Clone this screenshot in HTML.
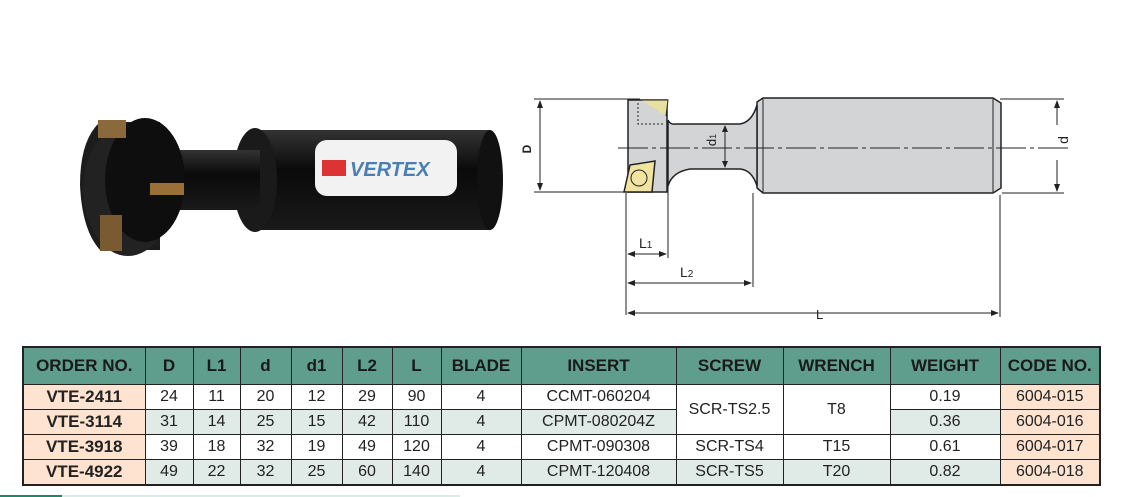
<!DOCTYPE html>
<html><head><meta charset="utf-8"><style>
body{margin:0;width:1124px;height:497px;background:#fff;position:relative;overflow:hidden;font-family:"Liberation Sans",sans-serif}
svg{position:absolute;left:0;top:0}
table{position:absolute;left:22px;top:346px;border-collapse:collapse;border:2px solid #222}
td{border:1px solid #222;text-align:center;font-size:16px;color:#222;padding:0;height:24px}
tr.h td{background:#5f9d8d;font-weight:bold;font-size:17px;height:36px;color:#1a1a1a}
td.o{background:#fde3d0;font-weight:bold;font-size:17px}
td.c{background:#fde3d0}
tr.g td{background:#e0ebe7}
tr.g td.o,tr.g td.c{background:#fde3d0}
td.w{background:#fff!important}
</style></head><body>
<svg width="1124" height="497">
<defs><linearGradient id="bk" x1="0" y1="0" x2="0" y2="1"><stop offset="0" stop-color="#333"/><stop offset="0.4" stop-color="#0a0a0a"/><stop offset="1" stop-color="#1a1a1a"/></linearGradient></defs>
<rect x="250" y="130" width="240" height="100" fill="url(#bk)"/>
<ellipse cx="490" cy="180" rx="13" ry="50" fill="#111"/>
<ellipse cx="255" cy="180" rx="22" ry="52" fill="#1a1a1a"/>
<rect x="160" y="150" width="100" height="60" fill="url(#bk)"/>
<path d="M100 122 L160 122 L160 250 L100 250 Q82 230 80 185 Q80 140 100 122Z" fill="#1c1c1c"/>
<ellipse cx="128" cy="190" rx="45" ry="66" fill="#222"/>
<ellipse cx="145" cy="180" rx="40" ry="62" fill="#0e0e0e"/>
<rect x="98" y="120" width="28" height="18" fill="#8a6a3a"/>
<rect x="150" y="183" width="34" height="12" fill="#9a7038"/>
<rect x="100" y="215" width="22" height="36" fill="#7a5a30"/>
<rect x="315" y="140" width="142" height="56" rx="12" fill="#f2f2f2"/>
<rect x="322" y="160" width="24" height="16" fill="#d33"/>
<text x="350" y="176" font-size="20" font-weight="bold" fill="#4a7fb5" font-style="italic" font-family="Liberation Sans">VERTEX</text>
<g stroke="#222" fill="none" stroke-width="1">
<line x1="534" y1="99" x2="640" y2="99"/><line x1="534" y1="192" x2="628" y2="192"/>
<line x1="540" y1="101" x2="540" y2="190"/>
<line x1="1000" y1="99" x2="1064" y2="99"/><line x1="1002" y1="193" x2="1064" y2="193"/>
<line x1="1057" y1="101" x2="1057" y2="125"/><line x1="1057" y1="160" x2="1057" y2="191"/>
<line x1="626" y1="193" x2="626" y2="315"/>
<line x1="668" y1="178" x2="668" y2="258"/>
<line x1="753" y1="193" x2="753" y2="287"/>
<line x1="1000" y1="195" x2="1000" y2="317"/>
<line x1="628" y1="254" x2="666" y2="254"/>
<line x1="628" y1="283" x2="751" y2="283"/>
<line x1="628" y1="313" x2="998" y2="313"/>
</g>
<g fill="#222">
<path d="M540 100 l-3 8 h6z M540 191 l-3 -8 h6z M1057 100 l-3 8 h6z M1057 192 l-3 -8 h6z"/>
<path d="M627 254 l8 -3 v6z M667 254 l-8 -3 v6z M627 283 l8 -3 v6z M752 283 l-8 -3 v6z M627 313 l8 -3 v6z M999 313 l-8 -3 v6z"/>
</g>
<path d="M757 102 L763 98 H993 L1001 103 V188 L993 193 H763 L757 188Z" fill="#d3d4d6" stroke="#222" stroke-width="1.5"/>
<line x1="763" y1="99" x2="763" y2="192" stroke="#222"/>
<line x1="993" y1="99" x2="993" y2="192" stroke="#222"/>
<path d="M668 120 Q670 125 676 124 H740 Q752 122 757 105 V186 Q752 170 740 169 H690 Q672 172 668 186Z" fill="#d3d4d6" stroke="#222" stroke-width="1.5"/>
<path d="M628 100 H667 V192 H628Z" fill="#d3d4d6" stroke="#222" stroke-width="1.5"/>
<path d="M641 100 H668 L666 116" fill="#e8e0a0" stroke="#222"/>
<path d="M638 103 V124 H664" fill="none" stroke="#222" stroke-dasharray="2,2"/>
<path d="M630 165 L655 161 L652 192 L624 192Z" fill="#f0e4a0" stroke="#222" stroke-width="1.5"/>
<circle cx="639" cy="178" r="8" fill="none" stroke="#222"/>
<line x1="618" y1="148" x2="1068" y2="148" stroke="#222" stroke-dasharray="30,4,4,4"/>
<line x1="725" y1="126" x2="725" y2="167" stroke="#222"/>
<path d="M725 125 l-3 7 h6z M725 168 l-3 -7 h6z" fill="#222"/>
<g font-family="Liberation Sans" font-size="14" fill="#222">
<text x="0" y="0" transform="translate(531 149) rotate(-90)" text-anchor="middle" font-weight="bold" font-size="12">D</text>
<text x="0" y="0" transform="translate(1068 140) rotate(-90)" text-anchor="middle">d</text>
<text x="0" y="0" transform="translate(716 140) rotate(-90)" text-anchor="middle" font-size="13">d<tspan font-size="9">1</tspan></text>
<text x="639" y="248">L<tspan font-size="10">1</tspan></text>
<text x="680" y="277">L<tspan font-size="10">2</tspan></text>
<text x="816" y="319" font-size="13">L</text>
</g>
<rect x="0" y="495" width="62" height="2" fill="#1a8a6a"/>
<rect x="62" y="495" width="398" height="2" fill="#d9ede6"/>
</svg>
<table>
<colgroup><col style="width:122px"><col style="width:48px"><col style="width:47px"><col style="width:51px"><col style="width:51px"><col style="width:50px"><col style="width:49px"><col style="width:80px"><col style="width:155px"><col style="width:107px"><col style="width:107px"><col style="width:110px"><col style="width:100px"></colgroup>
<tr class="h"><td>ORDER NO.</td><td>D</td><td>L1</td><td>d</td><td>d1</td><td>L2</td><td>L</td><td>BLADE</td><td>INSERT</td><td>SCREW</td><td>WRENCH</td><td>WEIGHT</td><td>CODE NO.</td></tr>
<tr><td class="o">VTE-2411</td><td>24</td><td>11</td><td>20</td><td>12</td><td>29</td><td>90</td><td>4</td><td>CCMT-060204</td><td rowspan="2" class="w">SCR-TS2.5</td><td rowspan="2" class="w">T8</td><td>0.19</td><td class="c">6004-015</td></tr>
<tr class="g"><td class="o">VTE-3114</td><td>31</td><td>14</td><td>25</td><td>15</td><td>42</td><td>110</td><td>4</td><td>CPMT-080204Z</td><td>0.36</td><td class="c">6004-016</td></tr>
<tr><td class="o">VTE-3918</td><td>39</td><td>18</td><td>32</td><td>19</td><td>49</td><td>120</td><td>4</td><td>CPMT-090308</td><td>SCR-TS4</td><td>T15</td><td>0.61</td><td class="c">6004-017</td></tr>
<tr class="g"><td class="o">VTE-4922</td><td>49</td><td>22</td><td>32</td><td>25</td><td>60</td><td>140</td><td>4</td><td>CPMT-120408</td><td>SCR-TS5</td><td>T20</td><td>0.82</td><td class="c">6004-018</td></tr>
</table>
</body></html>
